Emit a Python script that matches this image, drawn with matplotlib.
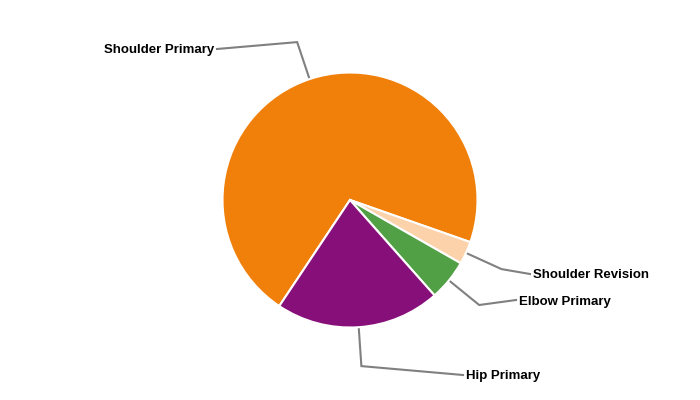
import numpy as np
import matplotlib.pyplot as plt

plt.rcParams['font.family'] = ['Liberation Sans', 'DejaVu Sans']

# data
labels = ['Shoulder Primary', 'Shoulder Revision', 'Elbow Primary', 'Hip Primary']
values = [71.0, 2.9, 5.2, 20.9]
colors = ['#f0800a', '#fcd2aa', '#52a046', '#870f7a']

# label anchor points (pixels, y from top) and alignment
label_pos = [(217, 49), (530, 274), (516, 300), (463, 375)]
label_ha = ['right', 'left', 'left', 'left']

W, H = 700, 400
cx, cy, r = 350, 200, 127.5
start = 236.3

fig = plt.figure(figsize=(7, 4), dpi=100)
ax = fig.add_axes([0, 0, 1, 1])
ax.set_xlim(0, W)
ax.set_ylim(0, H)
ax.set_aspect('equal')
ax.axis('off')

wedges, _ = ax.pie(values, colors=colors, startangle=start, counterclock=False,
                   center=(cx, H - cy), radius=r,
                   wedgeprops=dict(edgecolor='white', linewidth=1.5))
ax.set_xlim(0, W)
ax.set_ylim(0, H)

# connectors
for w, lab, (lx, ly), ha in zip(wedges, labels, label_pos, label_ha):
    mid = np.deg2rad((w.theta1 + w.theta2) / 2)
    x0 = cx + r * np.cos(mid)
    y0 = (H - cy) + r * np.sin(mid)
    x1 = cx + (r + 39) * np.cos(mid)
    y1 = (H - cy) + (r + 39) * np.sin(mid)
    ax.plot([x0, x1, lx], [y0, y1, H - ly], color='#808080', lw=1.5,
            solid_joinstyle='miter', zorder=0)
    dx = -3 if ha == 'right' else 3
    ax.text(lx + dx, H - ly - 1.5, lab, ha=ha, va='center', fontsize=9.5,
            fontweight='bold', color='black')

fig.savefig('out.png', dpi=100)
